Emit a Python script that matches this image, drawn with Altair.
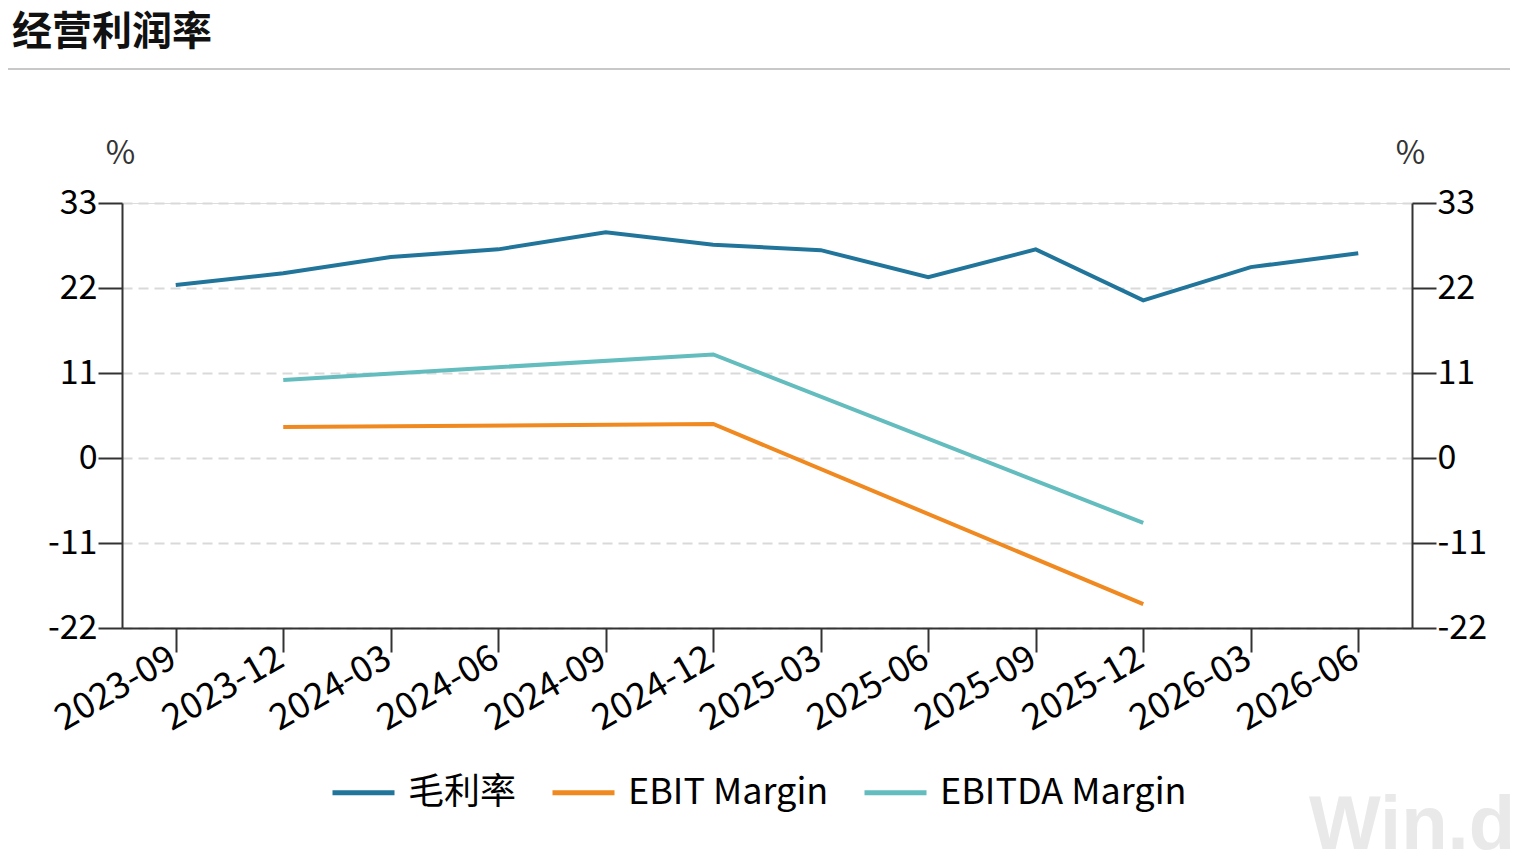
import altair as alt
import pandas as pd

quarters = ["2023-09", "2023-12", "2024-03", "2024-06", "2024-09", "2024-12",
            "2025-03", "2025-06", "2025-09", "2025-12", "2026-03", "2026-06"]
gross = [22.4, 23.9, 26.0, 27.0, 29.2, 27.6, 26.9, 23.4, 27.0, 20.4, 24.7, 26.5]
ebit_q = ["2023-12", "2024-12", "2025-12"]
ebit = [4.0, 4.4, -18.9]
ebitda_q = ["2023-12", "2024-12", "2025-12"]
ebitda = [10.1, 13.4, -8.4]
series = ["毛利率", "EBIT Margin", "EBITDA Margin"]
colors = ["#21759b", "#f0891f", "#63bcbd"]
yticks = [-22, -11, 0, 11, 22, 33]
title_text = "经营利润率"
watermark = "Win.d"

rows = []
for q, v in zip(quarters, gross):
    rows.append({"q": q, "v": v, "s": series[0]})
for q, v in zip(ebit_q, ebit):
    rows.append({"q": q, "v": v, "s": series[1]})
for q, v in zip(ebitda_q, ebitda):
    rows.append({"q": q, "v": v, "s": series[2]})
df = pd.DataFrame(rows)

FONT = "Noto Sans CJK SC"

x = alt.X("q:O", sort=quarters, scale=alt.Scale(domain=quarters, type="point", padding=0.5),
          axis=alt.Axis(title=None, labelAngle=-30, labelAlign="right", labelBaseline="middle",
                        labelFontSize=36, labelColor="#000", labelOffset=-3,
                        tickSize=24, tickColor="#333", tickWidth=2, domainColor="#333",
                        domainWidth=2, labelPadding=3, grid=False, labelFont=FONT))

yscale = alt.Scale(domain=[-22, 33], nice=False, zero=False)


def yaxis(orient):
    return alt.Axis(orient=orient, values=yticks, title="%", titleAngle=0, titleFontSize=32,
                    titleFontWeight="normal", titleColor="#333", titleX=-2,
                    titleY=-50, titleAlign="center", titleBaseline="middle",
                    labelFontSize=34, labelColor="#000", tickSize=24, tickColor="#333", tickWidth=2,
                    domainColor="#333", domainWidth=2, labelPadding=1, labelFont=FONT,
                    titleFont=FONT, labelExpr="'' + datum.value",
                    grid=(orient == "left"), gridColor="#d9d9d9", gridDash=[10, 6], gridWidth=2)


lines = alt.Chart(df).mark_line(strokeWidth=4).encode(
    x=x,
    y=alt.Y("v:Q", scale=yscale, axis=yaxis("left")),
    color=alt.Color("s:N", scale=alt.Scale(domain=series, range=colors),
                    legend=alt.Legend(title=None, orient="none", direction="horizontal",
                                      legendX=208, legendY=556, symbolType="stroke",
                                      symbolSize=3844, symbolStrokeWidth=5, labelFontSize=36,
                                      labelFont=FONT, labelColor="#000", columnPadding=25,
                                      labelOffset=11, labelLimit=600)),
)

right = alt.Chart(df).mark_line(opacity=0).encode(
    x=x,
    y=alt.Y("v:Q", scale=yscale, axis=yaxis("right")),
)

title = alt.Chart(pd.DataFrame({"t": [title_text]})).mark_text(
    align="left", baseline="middle", fontSize=40, fontWeight="bold", font=FONT, color="#111"
).encode(text="t:N", x=alt.value(-110), y=alt.value(-170))

rule = alt.Chart(pd.DataFrame({"a": [0]})).mark_rule(color="#c8c8c8", strokeWidth=2).encode(
    x=alt.value(-114), x2=alt.value(1400), y=alt.value(-134))

wm = alt.Chart(pd.DataFrame({"t": [watermark]})).mark_text(
    align="left", baseline="alphabetic", fontSize=76, fontWeight="bold", font="Liberation Sans",
    color="#e9e9e9"
).encode(text="t:N", x=alt.value(1187), y=alt.value(646))

chart = alt.layer(rule, title, wm, lines, right).resolve_scale(y="independent").properties(
    width=1290, height=425,
    autosize=alt.AutoSizeParams(type="none"),
    padding={"left": 114, "top": 195, "right": 98, "bottom": 222},
).configure_view(stroke=None).configure(font=FONT)

chart.save("out.html", embed_options={"renderer": "svg", "actions": False})
